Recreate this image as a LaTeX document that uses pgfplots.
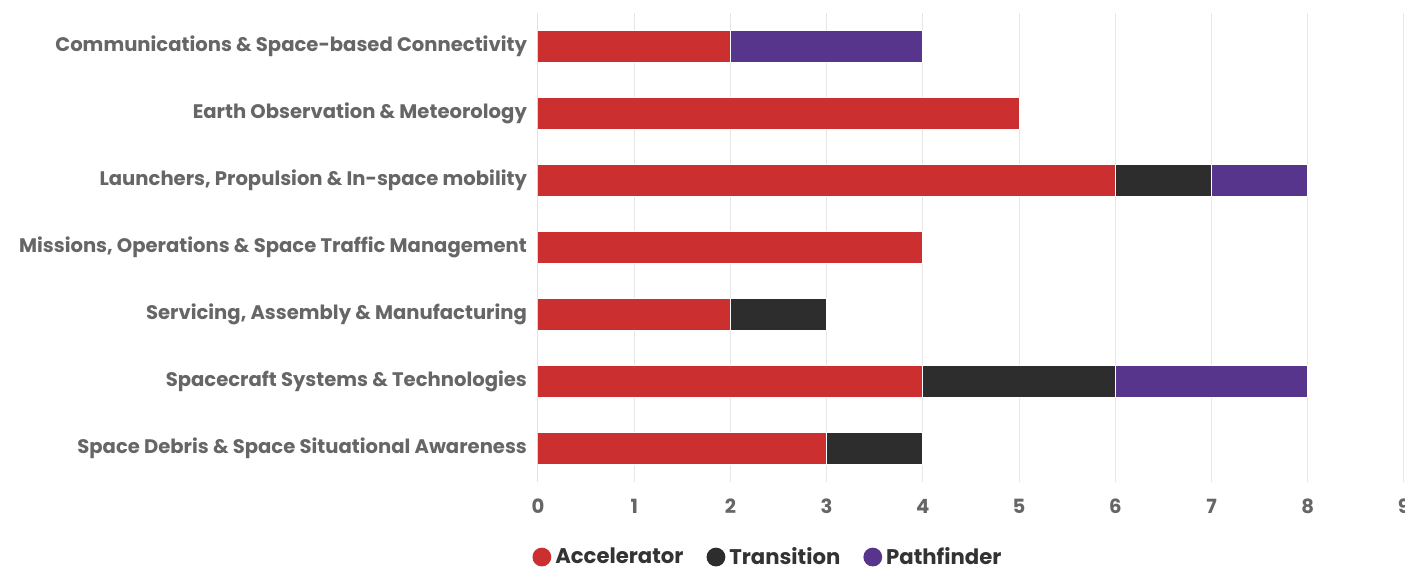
\documentclass[border=0pt]{standalone}
\usepackage{fontspec}
\setmainfont{Poppins}
\usepackage{pgfplots}
\pgfplotsset{compat=1.18}
\definecolor{cA}{HTML}{CC2F30}
\definecolor{cT}{HTML}{2D2D2D}
\definecolor{cP}{HTML}{57358C}
\definecolor{grid}{HTML}{E6E6E6}
\definecolor{axl}{HTML}{CCD6EB}
\definecolor{lab}{HTML}{666666}
\definecolor{leg}{HTML}{333333}
\begin{document}
\begin{tikzpicture}
\path[use as bounding box] (-269pt,-43.5pt) rectangle (433.5pt,241pt);
\begin{axis}[
  at={(0,0)}, anchor=south west,
  scale only axis, width=433pt, height=234.5pt,
  xbar stacked, bar width=16pt,
  xmin=0, xmax=9, ymin=-0.5, ymax=6.5, y dir=reverse,
  xtick={0,...,9}, ytick={0,...,6},
  yticklabels={{Communications \& Space-based Connectivity},{Earth Observation \& Meteorology},{Launchers, Propulsion \& In-space mobility},{Missions, Operations \& Space Traffic Management},{Servicing, Assembly \& Manufacturing},{Spacecraft Systems \& Technologies},{Space Debris \& Space Situational Awareness}},
  /pgf/number format/assume math mode=true,
  tick style={draw=none},
  xmajorgrids, major grid style={draw=grid, line width=0.5pt},
  axis line style={draw=none},
  axis x line*=bottom, axis y line*=left,
  xticklabel style={font=\bfseries\fontsize{9.8}{11}\selectfont, text=lab, yshift=-5pt},
  yticklabel style={font=\bfseries\fontsize{9.8}{11}\selectfont, text=lab, xshift=-2pt},
  legend style={draw=none, at={(0.2667,-0.16)}, anchor=center, legend columns=3,
     font=\bfseries\fontsize{10.6}{12}\selectfont, text=leg,
     /tikz/every even column/.append style={column sep=9.5pt}},
  legend image code/.code={\fill[#1,draw=none] (3pt,0pt) circle (4.7pt);},
  every axis plot/.append style={draw=white, line width=0.5pt},
]
\addplot[fill=cA] coordinates {(2,0) (5,1) (6,2) (4,3) (2,4) (4,5) (3,6)};
\addplot[fill=cT] coordinates {(0,0) (0,1) (1,2) (0,3) (1,4) (2,5) (1,6)};
\addplot[fill=cP] coordinates {(2,0) (0,1) (1,2) (0,3) (0,4) (2,5) (0,6)};
\legend{Accelerator,Transition,Pathfinder}
\draw[axl, line width=0.5pt] (axis cs:0,-0.5) -- (axis cs:0,6.5);
\end{axis}
\end{tikzpicture}
\end{document}
